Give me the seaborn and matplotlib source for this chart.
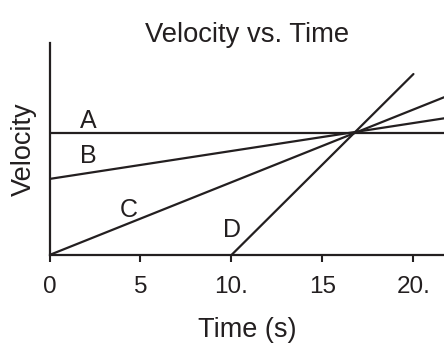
"""Velocity vs. time chart for four objects A-D."""

import matplotlib
matplotlib.use("Agg")
import matplotlib.pyplot as plt
import pandas as pd
import seaborn as sns

# Line endpoints (time in s, velocity in arbitrary units)
lines = ["A", "B", "C", "D"]
start_times = [0.0, 0.0, 0.0, 10.0]
end_times = [21.68, 21.68, 21.68, 20.0]
start_velocities = [10.0, 6.25, 0.0, 0.0]
end_velocities = [10.0, 11.23, 12.96, 14.87]

# Letter label positions (baseline centre, data coords)
label_times = [2.15, 2.15, 4.37, 10.05]
label_velocities = [10.44, 7.56, 3.12, 1.48]

tick_values = [0, 5, 10, 15, 20]
tick_labels = ["0", "5", "10.", "15", "20."]

INK = "#231f20"

sns.set_style("white")
plt.rcParams["font.family"] = ["Liberation Sans", "DejaVu Sans"]

rows = []
for name, t0, t1, v0, v1 in zip(lines, start_times, end_times, start_velocities, end_velocities):
    rows.append({"line": name, "time": t0, "velocity": v0})
    rows.append({"line": name, "time": t1, "velocity": v1})
df = pd.DataFrame(rows)

fig = plt.figure(figsize=(4.44, 3.43), dpi=100)
ax = fig.add_axes([0.1115, 0.2566, 0.8885, 0.618])

sns.lineplot(
    data=df, x="time", y="velocity", units="line", estimator=None,
    color=INK, linewidth=1.6, ax=ax,
)

for name, t, v in zip(lines, label_times, label_velocities):
    ax.text(t, v, name, ha="center", va="baseline", fontsize=18, color=INK)

ax.set_xlim(0, 21.68)
ax.set_ylim(0, 17.42)
ax.set_xticks(tick_values)
ax.set_xticklabels(tick_labels)
ax.set_yticks([])
ax.tick_params(axis="x", direction="out", length=5, width=1.5, color=INK,
               labelsize=17.5, labelcolor=INK, pad=10, bottom=True)

for side in ["top", "right"]:
    ax.spines[side].set_visible(False)
for side in ["left", "bottom"]:
    ax.spines[side].set_linewidth(1.6)
    ax.spines[side].set_color(INK)

ax.set_xlabel("Time (s)", fontsize=19.5, color=INK, labelpad=14)
ax.set_ylabel("Velocity", fontsize=19.5, color=INK, labelpad=9)
ax.set_title("Velocity vs. Time", fontsize=19.7, color=INK, pad=1)

fig.savefig("out.png", dpi=100)
plt.close(fig)
